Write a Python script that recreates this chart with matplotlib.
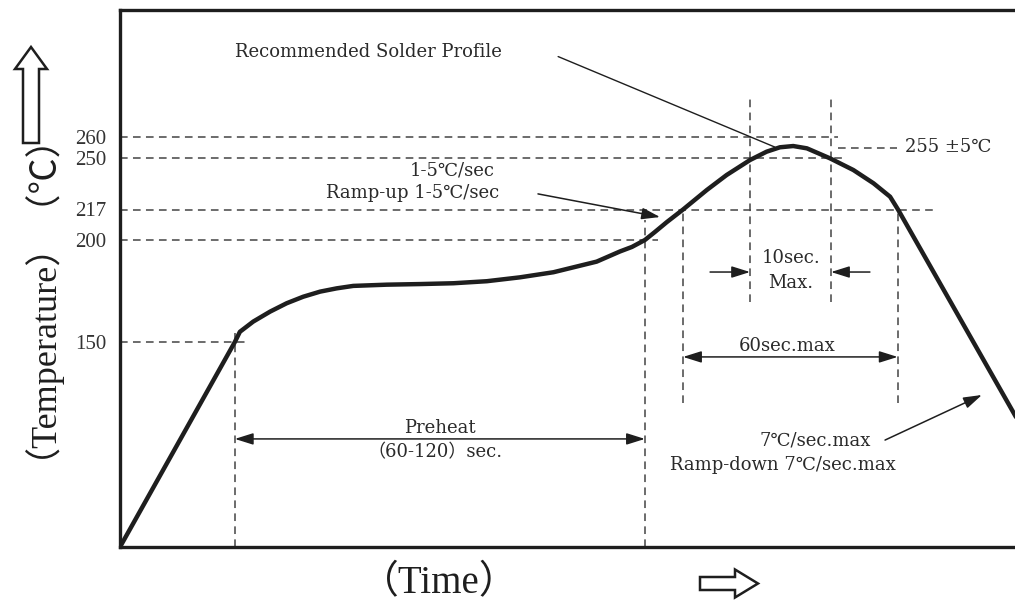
import numpy as np
import matplotlib
matplotlib.use("Agg")
import matplotlib.pyplot as plt
import matplotlib.patches as mpatches

# reflow profile: time (s) / temperature (degC)
profile_time = [0, 31.9, 33.3, 37.0, 41.7, 46.3, 50.9, 55.6, 60.2, 64.8, 74.1, 83.3,
                92.6, 101.9, 111.1, 120.4, 132.4, 138.9, 142.2, 145.8, 148.6, 151.9, 156.4,
                163.0, 168.5, 175.0, 179.6, 183.3, 187.0, 190.8, 197.2, 203.7, 209.3,
                213.9, 216.1, 269.4]
profile_temp = [25, 150, 155.0, 160.0, 164.9, 169.0, 172.2, 174.7, 176.3, 177.5, 178.1, 178.4,
                178.8, 179.8, 181.7, 184.2, 189.4, 194.4, 196.6, 200, 204.5, 210.0, 217,
                229.5, 239.1, 248.7, 253.0, 255.1, 255.7, 254.6, 249.8, 242.3, 233.8,
                225.2, 217, 25]

temp_ticks = [150, 200, 217, 250, 260]

# the drawing is not to scale: temperature -> height on the sheet
scale_temp = [25, 150, 200, 217, 250, 260, 320]
scale_height = [0, 205, 307, 337.5, 389, 410, 537]

# guide lines (level, start, end)
h_guides = [(260, 0, 199.4), (250, 0, 200.5), (217, 0, 225.8),
            (200, 0, 149.4), (150, 0, 35.3), (255, 199.5, 215.8)]
v_guides = [(31.9, 25, 154.4), (145.8, 25, 211), (156.4, 112.8, 217),
            (175.0, 169.6, 280), (197.5, 169.6, 280), (216.0, 112.8, 217)]

serif = ['DejaVu Serif', 'Noto Sans CJK SC']
label_font = ['Liberation Serif', 'Noto Sans CJK SC']
ink = '#1e1e1e'
dash = '#444444'

# extend the piecewise scale linearly at both ends
ext_t = [-2000] + scale_temp + [3000]
lo_slope = (scale_height[1] - scale_height[0]) / (scale_temp[1] - scale_temp[0])
hi_slope = (scale_height[-1] - scale_height[-2]) / (scale_temp[-1] - scale_temp[-2])
ext_h = ([scale_height[0] - (scale_temp[0] + 2000) * lo_slope] + scale_height
         + [scale_height[-1] + (3000 - scale_temp[-1]) * hi_slope])


def fwd(t):
    return np.interp(t, ext_t, ext_h)


def inv(h):
    return np.interp(h, ext_h, ext_t)


fig = plt.figure(figsize=(10.15, 6.02), dpi=100)
ax = fig.add_axes([120 / 1015, 1 - 547 / 602, 1 - 120 / 1015, 537 / 602])
ax.set_yscale('function', functions=(fwd, inv))
ax.set_xlim(0, 248.6)
ax.set_ylim(25, 320)

for s in ['left', 'bottom', 'top']:
    ax.spines[s].set_linewidth(2.4)
    ax.spines[s].set_color(ink)
ax.spines['right'].set_visible(False)

ax.set_xticks([])
ax.set_yticks(temp_ticks)
ax.set_yticklabels([str(t) for t in temp_ticks], family=label_font, fontsize=15, color='#333')
ax.tick_params(axis='y', length=0, pad=10)

for lvl, a, b in h_guides:
    ax.plot([a, b], [lvl, lvl], ls=(0, (5, 3.5)), lw=1.1, color=dash)
for t, a, b in v_guides:
    ax.plot([t, t], [a, b], ls=(0, (5, 3.5)), lw=1.1, color=dash)

ax.plot(profile_time, profile_temp, color=ink, lw=3.2, solid_joinstyle='round',
        solid_capstyle='round', zorder=5)

head = '-|>,head_length=0.7,head_width=0.22'
dbl = '<|-|>,head_length=0.7,head_width=0.22'
arr_kw = dict(color=ink, lw=1.1, shrinkA=0, shrinkB=0, mutation_scale=16)

# dimension arrows
ax.annotate('', xy=(145.8, 90.9), xytext=(31.9, 90.9), arrowprops=dict(arrowstyle=dbl, **arr_kw))
ax.annotate('', xy=(216.0, 140.9), xytext=(156.4, 140.9), arrowprops=dict(arrowstyle=dbl, **arr_kw))
ax.annotate('', xy=(175.0, 184.3), xytext=(163.9, 184.3), arrowprops=dict(arrowstyle=head, **arr_kw))
ax.annotate('', xy=(197.5, 184.3), xytext=(208.3, 184.3), arrowprops=dict(arrowstyle=head, **arr_kw))

# leader lines
ax.annotate('', xy=(181.9, 255.2), xytext=(121.7, 298),
            arrowprops=dict(arrowstyle='-', color=ink, lw=1.0, shrinkA=0, shrinkB=0))
ax.annotate('', xy=(150.0, 212.8), xytext=(116.1, 227),
            arrowprops=dict(arrowstyle=head, **arr_kw))
ax.annotate('', xy=(239.4, 117.7), xytext=(212.5, 90.2),
            arrowprops=dict(arrowstyle=head, **arr_kw))

txt = dict(family=serif, fontsize=13, color='#2a2a2a', va='center')
ax.text(32, 300, 'Recommended Solder Profile', ha='left', **txt)
ax.text(92.2, 241.7, '1-5℃/sec', ha='center', **txt)
ax.text(81.4, 227.6, 'Ramp-up 1-5℃/sec', ha='center', **txt)
ax.text(218, 255, '255 ±5℃', ha='left', **txt)
ax.text(88.9, 97.6, 'Preheat', ha='center', **txt)
ax.text(87.5, 82.9, '（60-120）sec.', ha='center', **txt)
ax.text(185.3, 147.6, '60sec.max', ha='center', **txt)
ax.text(186.4, 191.2, '10sec.', ha='center', **txt)
ax.text(186.4, 178.9, 'Max.', ha='center', **txt)
ax.text(193, 90.2, '7℃/sec.max', ha='center', **txt)
ax.text(184, 75, 'Ramp-down 7℃/sec.max', ha='center', **txt)

# axis titles
fig.text(0.001, 0.54, '（Temperature）（℃）', rotation=90, ha='left', va='center',
         family=label_font, fontsize=26, color=ink)
fig.text(0.433, 0.030, '（Time）', ha='center', va='center',
         family=label_font, fontsize=28, color=ink)

# hollow direction arrows (inches)
up = mpatches.FancyArrow(0.31, 4.59, 0, 0.96, width=0.16, head_width=0.32, head_length=0.22,
                         length_includes_head=True, fc='white', ec=ink, lw=1.8,
                         transform=fig.dpi_scale_trans)
right = mpatches.FancyArrow(7.00, 0.185, 0.58, 0, width=0.13, head_width=0.28, head_length=0.23,
                            length_includes_head=True, fc='white', ec=ink, lw=1.8,
                            transform=fig.dpi_scale_trans)
fig.patches.extend([up, right])

fig.savefig('out.png', dpi=100)
